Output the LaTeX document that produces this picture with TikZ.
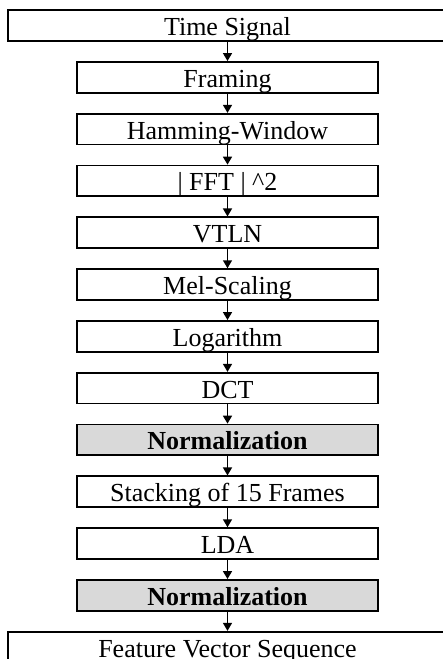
\documentclass[tikz,border=0pt]{standalone}
\usepackage{fontspec}
\setmainfont{Liberation Serif}
\usepackage{tikz}
\usetikzlibrary{arrows.meta, positioning}

\definecolor{normgray}{RGB}{217,217,217}

\tikzset{
  stage/.style={draw, line width=1.8pt, minimum width=301pt, minimum height=30.7pt,
    inner sep=0pt, text height=25pt, text depth=5pt, font=\fontsize{26}{30}\selectfont},
  widestage/.style={stage, minimum width=439pt},
  normstage/.style={stage, fill=normgray, font=\fontsize{26}{30}\selectfont\bfseries},
}

\begin{document}
\begin{tikzpicture}[x=1pt, y=1pt, >={Triangle[length=8pt,width=9pt]}, node distance=19.3pt]
    % Rahmen
    \path[use as bounding box, clip] (0,0) rectangle (443,-659);

    % Verarbeitungsschritte
    \node[widestage] (signal) at (227.5,-25.5) {Time Signal};
    \node[stage, below=of signal] (framing) {Framing};
    \node[stage, below=of framing] (hamming) {Hamming-Window};
    \node[stage, below=of hamming] (fft) {| FFT | \textasciicircum2};
    \node[stage, below=of fft] (vtln) {VTLN};
    \node[stage, below=of vtln] (mel) {Mel-Scaling};
    \node[stage, below=of mel] (log) {Logarithm};
    \node[stage, below=of log] (dct) {DCT};
    \node[normstage, below=of dct] (norma) {Normalization};
    \node[stage, below=of norma] (stack) {Stacking of 15 Frames};
    \node[stage, below=of stack] (lda) {LDA};
    \node[normstage, below=of lda] (normb) {Normalization};
    \node[widestage, below=of normb] (feat) {Feature Vector Sequence};

    % Pfeile
    \foreach \a/\b in {signal/framing, framing/hamming, hamming/fft, fft/vtln,
        vtln/mel, mel/log, log/dct, dct/norma, norma/stack, stack/lda,
        lda/normb, normb/feat}
        \draw[->, line width=1.5pt] (\a) -- (\b);
\end{tikzpicture}
\end{document}
